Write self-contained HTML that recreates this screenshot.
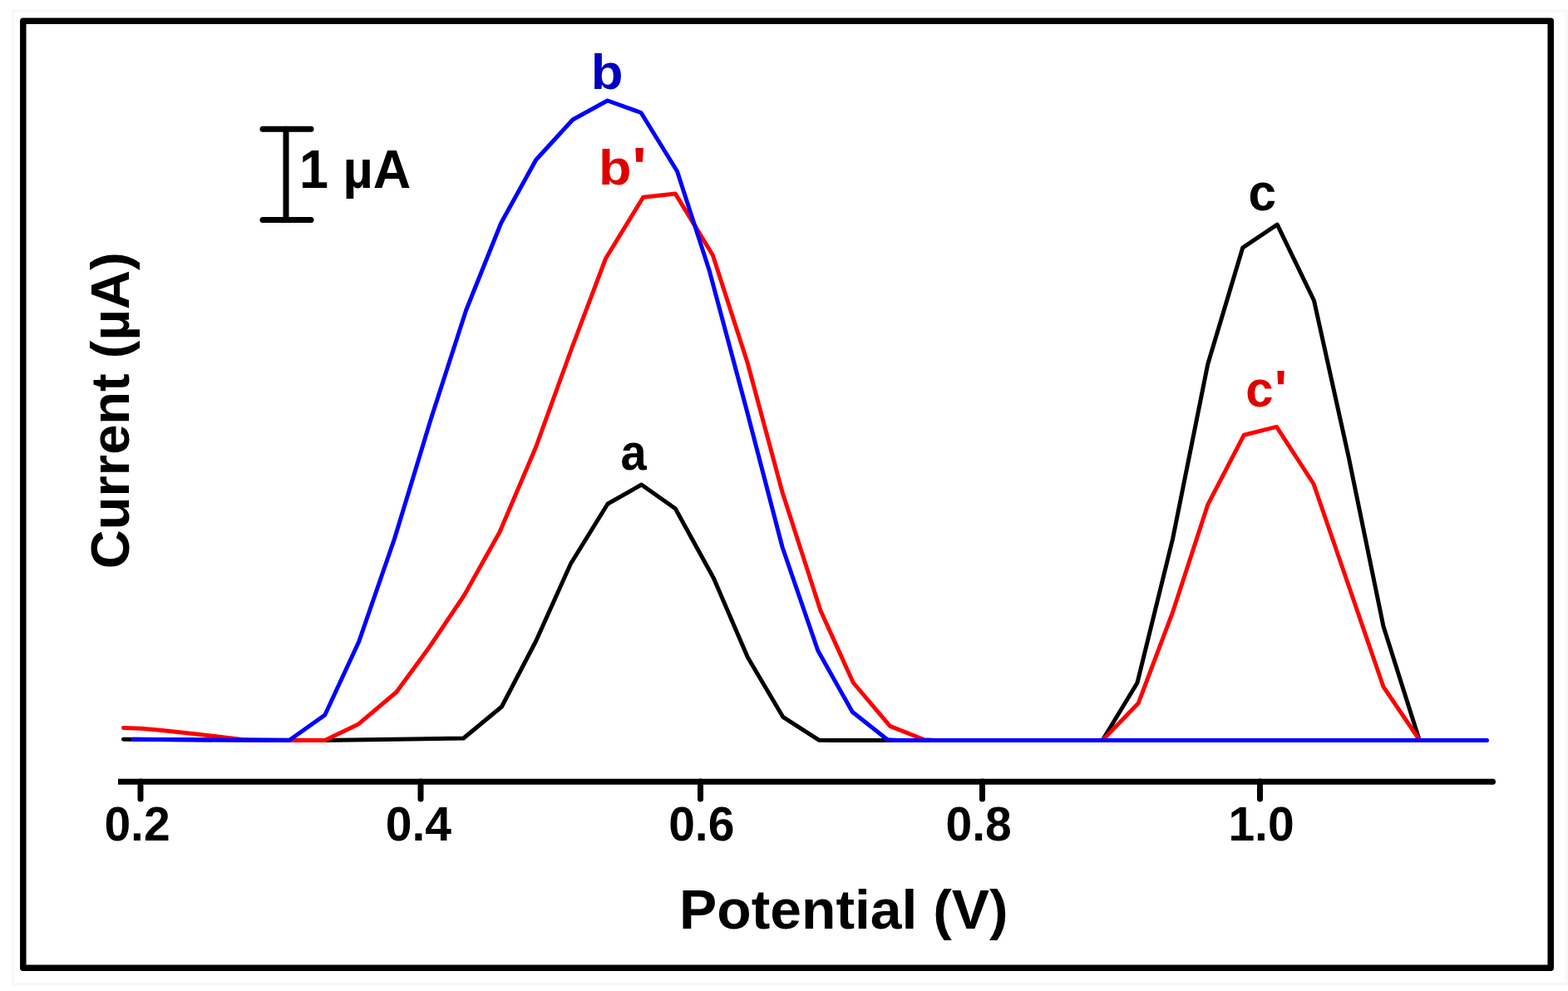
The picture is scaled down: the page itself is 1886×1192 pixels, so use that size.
<!DOCTYPE html>
<html><head><meta charset="utf-8"><title>DPV chart</title>
<style>
html,body{margin:0;padding:0;background:#fff;}
body{width:1886px;height:1192px;overflow:hidden;}
svg{display:block;}
text{font-family:"Liberation Sans",Arial,sans-serif;font-weight:bold;}
</style></head>
<body>
<svg width="1886" height="1192" viewBox="0 0 1886 1192">
<rect x="0" y="0" width="1886" height="1192" fill="#fff"/>
<rect x="15.5" y="13.2" width="1868.5" height="1170.6" fill="none" stroke="#f8f8f8" stroke-width="3.5"/>
<!-- frame -->
<rect x="27.8" y="25.3" width="1837.4" height="1139" fill="none" stroke="#000" stroke-width="7.5" stroke-linejoin="round"/>
<!-- x axis -->
<line x1="142" y1="940.3" x2="1795.5" y2="940.3" stroke="#000" stroke-width="7" stroke-linecap="butt"/>
<circle cx="1795.5" cy="940.3" r="3.5" fill="#000"/>
<g stroke="#000" stroke-width="7" stroke-linecap="round">
<line x1="169" y1="940" x2="169" y2="961"/>
<line x1="506" y1="940" x2="506" y2="961"/>
<line x1="842.5" y1="940" x2="842.5" y2="961"/>
<line x1="1181.5" y1="940" x2="1181.5" y2="961"/>
<line x1="1515.5" y1="940" x2="1515.5" y2="961"/>
</g>
<g font-size="57" text-anchor="middle" fill="#000">
<text x="165" y="1010.5">0.2</text>
<text x="503.4" y="1010.5">0.4</text>
<text x="843.8" y="1010.5">0.6</text>
<text x="1177.2" y="1010.5">0.8</text>
<text x="1517" y="1010.5">1.0</text>
</g>
<text transform="translate(817 1116.8) scale(1.008 1)" font-size="67.3" fill="#000">Potential (V)</text>
<text transform="translate(154.5 684.2) rotate(-90) scale(0.995 1)" font-size="65.4" fill="#000">Current (µA)</text>
<!-- scale bar -->
<g stroke="#000" stroke-width="7" stroke-linecap="round" fill="none">
<line x1="316" y1="155.3" x2="374" y2="155.3"/>
<line x1="316" y1="264.5" x2="374" y2="264.5"/>
<line x1="344" y1="155.3" x2="344" y2="264.5"/>
</g>
<text transform="translate(360 225.7) scale(0.973 1)" font-size="64.7" fill="#000">1 µA</text>
<!-- curves -->
<polyline fill="none" stroke="#000" stroke-width="5" stroke-linejoin="round" stroke-linecap="round" points="
148.5,889.3 390,890.6 557.5,888 603.5,850 644.7,771 686.5,678 731,606 771.6,583 812.3,611.7 858.4,695.5 899.4,790.8 941.7,862.3 984.9,890.2 1000,890.5 1326,890.5 1368,821.2 1410.6,648 1452.7,438.2 1494.8,297.8 1536.3,270.1 1580.5,361.5 1622,549 1664,753.4 1707,889.5"/>
<polyline fill="none" stroke="#ff0000" stroke-width="5" stroke-linejoin="round" stroke-linecap="round" points="
148.5,875.4 170,876.2 195,878.6 236.5,883 270,887 300,890.5 347.8,890.5 390.8,890.5 430.7,871.3 476.8,832.5 516.7,778 558.7,715.5 601,640 644.5,538 688,418 728.5,311 773.6,237.3 812.4,233.1 857.4,307 899,436 941,592 987,734.5 1026.2,821 1070.5,873.4 1111.7,889.8 1125,890.5 1326,890.5 1369.1,846.1 1411,735.1 1452.7,607.2 1496.3,523.2 1535.5,513.4 1580,582 1622,704 1664,826.2 1707,889.5"/>
<polyline fill="none" stroke="#0000ff" stroke-width="5" stroke-linejoin="round" stroke-linecap="round" points="
160,889.3 347.8,890.5 390.8,860 431.7,771.7 474.5,648 518,505 560.5,373.5 602.8,268 644.7,192.3 688.8,144 730.7,121 771,135.5 814.5,206 853.3,325.8 897,489 941,658 983.9,782.8 1025.2,856.3 1067.5,889.8 1080,890.5 1788.5,890.5"/>
<!-- labels -->
<text transform="translate(710.8 107.4) scale(1.07 1)" font-size="59.3" fill="#0000c0">b</text>
<text transform="translate(720.1 222) scale(1.09 1)" font-size="59.3" fill="#e00000">b<tspan dx="0.75" dy="1.7" font-size="66">'</tspan></text>
<text transform="translate(746.6 565.1) scale(0.917 1)" font-size="61.1" fill="#000">a</text>
<text transform="translate(1501.6 252.9) scale(0.97 1)" font-size="62.2" fill="#000">c</text>
<text transform="translate(1498.3 488.8) scale(0.97 1)" font-size="61.7" fill="#e00000">c<tspan dx="1.57" dy="1.7" font-size="65">'</tspan></text>
</svg>
</body></html>
